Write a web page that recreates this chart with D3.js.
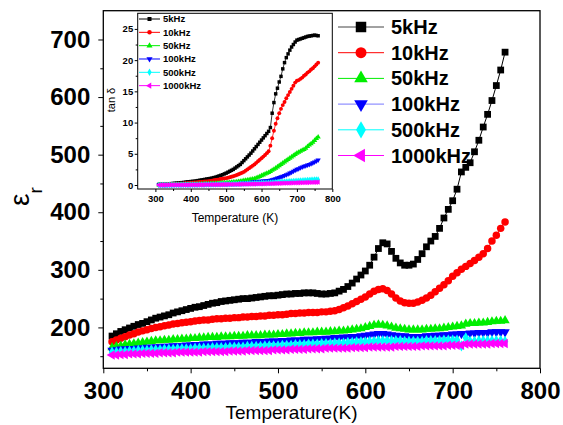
<!DOCTYPE html>
<html><head><meta charset="utf-8">
<script src="https://cdn.jsdelivr.net/npm/d3@7"></script>
<style>body{margin:0;background:#fff}svg{display:block}text{font-family:"Liberation Sans",Arial,sans-serif}</style>
</head><body><svg id="c" width="563" height="425"></svg>
<script>
const temperature = [
310,315,320,325,330,335,340,345,350,355,
360,365,370,375,380,385,390,395,400,405,
410,415,420,425,430,435,440,445,450,455,
460,465,470,475,480,485,490,495,500,505,
510,515,520,525,530,535,540,545,550,555,
560,565,570,575,580,585,590,595,600,605,
610,615,620,625,630,635,640,645,650,655,
660,665,670,675,680,685,690,695,700,705,
710,715,720,725,730,735,740,745,750,755,
760];
const seriesNames = ["5kHz","10kHz","50kHz","100kHz","500kHz","1000kHz"];
// permittivity (main chart)
const eps5k = [
185,189,193,196,199,202,205,207,210,213,
216,218,220,222,225,227,229,231,233,235,
236,238,240,242,243,245,246,247,248,249,
250,250,251,252,253,254,255,255,256,257,
258,258,259,259,260,260,260,259,258,258,
259,260,263,266,271,277,284,291,298,308,
322,337,347,345,332,320,312,308,308,310,
318,328,340,350,358,372,390,405,420,440,
470,478,486,505,525,548,570,594,620,647,
678];
const eps10k = [
175,178,181,184,187,189,192,194,196,198,
200,201,203,204,206,207,208,209,210,211,
212,213,213,214,215,215,216,216,217,217,
218,218,219,219,220,220,221,221,222,222,
223,224,224,225,225,226,226,226,227,227,
228,229,231,234,237,241,245,249,253,258,
263,266,267,264,258,251,246,243,242,242,
244,247,251,256,262,268,274,281,289,295,
301,306,311,316,322,328,337,350,360,372,
383];
const eps50k = [
165,167,168,170,171,172,173,174,175,176,
177,177,178,178,179,179,180,180,181,181,
182,182,183,183,183,184,184,184,185,185,
185,186,186,186,186,187,187,187,188,188,
189,189,190,190,191,191,191,192,192,192,
193,193,194,194,195,196,197,198,200,202,
204,205,204,203,201,199,198,197,196,196,
196,196,197,197,198,198,199,200,201,202,
203,206,207,207,208,208,209,210,211,211,
212];
const eps100k = [
160,161,162,162,163,163,164,164,165,165,
166,166,167,167,168,168,168,169,169,170,
170,171,171,171,172,172,172,173,173,173,
174,174,174,175,175,175,176,176,176,177,
177,178,178,178,179,179,179,180,180,181,
181,182,182,183,183,184,184,185,186,187,
188,189,189,188,187,186,185,185,184,184,
184,184,185,185,186,186,187,187,188,188,
189,189,190,190,191,191,191,192,192,192,
192];
const eps500k = [
157,157,158,158,159,159,160,160,160,161,
161,161,162,162,162,163,163,163,163,164,
164,164,164,165,165,165,165,166,166,166,
166,167,167,167,167,168,168,168,168,169,
169,169,170,170,170,171,171,171,172,172,
172,173,173,173,174,174,175,175,175,176,
176,177,177,177,177,177,177,176,176,176,
176,176,177,177,177,177,178,178,178,178,
168,182,176,176,177,177,177,177,177,177,
176];
const eps1000k = [
152,152,153,153,154,154,154,155,155,155,
155,156,156,156,156,157,157,157,157,157,
157,158,158,158,158,158,158,159,159,159,
159,160,160,160,160,160,160,161,161,161,
161,162,162,162,162,163,163,163,163,164,
164,164,164,164,164,165,165,165,165,166,
166,166,166,166,166,167,167,167,167,167,
167,168,168,168,168,168,168,169,169,169,
169,171,171,171,171,171,171,172,172,172,
172];
// loss tangent (inset)
const tan5k = [
0.10,0.11,0.12,0.13,0.15,0.17,0.20,0.22,0.25,0.27,
0.30,0.32,0.35,0.38,0.40,0.45,0.50,0.52,0.55,0.58,
0.60,0.65,0.70,0.75,0.80,0.85,0.90,0.95,1.00,1.05,
1.10,1.18,1.25,1.35,1.45,1.55,1.65,1.78,1.90,2.05,
2.20,2.35,2.50,2.70,2.90,3.10,3.30,3.60,3.90,4.20,
4.50,4.80,5.10,5.45,5.80,6.15,6.50,6.85,7.20,7.55,
7.90,8.25,8.60,9.20,11.5,13.2,14.6,15.5,16.5,17.4,
18.6,19.6,20.4,21.0,21.6,22.1,22.5,22.9,23.2,23.3,
23.4,23.5,23.6,23.7,23.8,23.85,23.9,23.95,24.0,23.95,
23.9];
const tan10k = [
0.05,0.06,0.07,0.08,0.10,0.11,0.12,0.13,0.15,0.16,
0.18,0.19,0.20,0.22,0.25,0.27,0.30,0.32,0.35,0.37,
0.40,0.42,0.45,0.47,0.50,0.52,0.55,0.57,0.60,0.65,
0.70,0.75,0.80,0.85,0.90,0.95,1.00,1.05,1.10,1.17,
1.25,1.32,1.40,1.50,1.60,1.72,1.85,1.97,2.10,2.30,
2.50,2.70,2.90,3.10,3.30,3.55,3.80,4.05,4.30,4.55,
4.80,5.10,5.40,6.30,7.50,8.70,9.80,10.7,11.5,12.2,
12.8,13.3,13.9,14.4,14.9,15.4,15.9,16.4,16.7,16.8,
17.0,17.2,17.5,17.7,18.0,18.2,18.5,18.7,19.0,19.3,
19.6];
const tan50k = [
0.02,0.02,0.03,0.03,0.03,0.04,0.04,0.05,0.05,0.05,
0.06,0.06,0.07,0.07,0.08,0.08,0.09,0.09,0.10,0.11,
0.12,0.13,0.14,0.15,0.16,0.17,0.18,0.19,0.20,0.21,
0.23,0.24,0.26,0.28,0.29,0.31,0.33,0.34,0.36,0.38,
0.41,0.43,0.46,0.49,0.52,0.56,0.60,0.65,0.70,0.75,
0.80,0.85,0.90,0.95,1.00,1.12,1.25,1.37,1.50,1.62,
1.75,1.87,2.00,2.17,2.35,2.52,2.70,2.90,3.10,3.30,
3.50,3.70,3.90,4.10,4.30,4.50,4.70,4.90,5.10,5.25,
5.40,5.55,5.70,5.90,6.15,6.40,6.60,6.85,7.15,7.45,
7.70];
const tan100k = [
0.01,0.01,0.01,0.01,0.02,0.02,0.02,0.02,0.03,0.03,
0.03,0.03,0.04,0.04,0.04,0.04,0.05,0.05,0.05,0.06,
0.06,0.07,0.07,0.08,0.08,0.09,0.09,0.10,0.10,0.11,
0.11,0.12,0.12,0.13,0.13,0.14,0.14,0.15,0.15,0.16,
0.17,0.18,0.19,0.21,0.22,0.24,0.26,0.28,0.30,0.33,
0.36,0.40,0.43,0.47,0.50,0.53,0.56,0.58,0.60,0.62,
0.65,0.67,0.70,0.77,0.85,0.92,1.00,1.10,1.20,1.30,
1.40,1.52,1.65,1.77,1.90,2.05,2.20,2.35,2.50,2.62,
2.75,2.87,3.00,3.10,3.20,3.30,3.40,3.55,3.70,3.85,
4.00];
const tan500k = [
0.00,0.00,0.00,0.01,0.01,0.01,0.01,0.01,0.02,0.02,
0.02,0.02,0.02,0.03,0.03,0.03,0.03,0.04,0.04,0.04,
0.05,0.05,0.05,0.06,0.06,0.06,0.07,0.07,0.07,0.08,
0.08,0.09,0.09,0.10,0.10,0.11,0.11,0.12,0.12,0.13,
0.13,0.14,0.15,0.16,0.17,0.18,0.19,0.20,0.21,0.22,
0.23,0.24,0.25,0.26,0.27,0.28,0.29,0.30,0.31,0.32,
0.33,0.34,0.35,0.37,0.39,0.41,0.43,0.45,0.47,0.49,
0.51,0.53,0.55,0.57,0.59,0.61,0.63,0.65,0.67,0.69,
0.71,0.73,0.75,0.77,0.79,0.81,0.83,0.85,0.87,0.89,
0.90];
const tan1000k = [
0,0,0,0,0.01,0.01,0.01,0.01,0.01,0.01,
0.01,0.02,0.02,0.02,0.02,0.02,0.02,0.03,0.03,0.03,
0.03,0.03,0.04,0.04,0.04,0.04,0.05,0.05,0.05,0.05,
0.06,0.06,0.06,0.07,0.07,0.07,0.08,0.08,0.08,0.09,
0.09,0.10,0.10,0.11,0.11,0.12,0.12,0.13,0.13,0.14,
0.14,0.15,0.15,0.16,0.16,0.17,0.17,0.18,0.18,0.19,
0.20,0.21,0.21,0.22,0.23,0.24,0.25,0.26,0.27,0.28,
0.29,0.30,0.31,0.31,0.32,0.33,0.34,0.35,0.36,0.36,
0.37,0.38,0.39,0.40,0.40,0.41,0.42,0.43,0.44,0.44,
0.45];
const mainXTicks = [300,400,500,600,700,800];
const mainXMinor = [350,450,550,650,750];
const mainYTicks = [200,300,400,500,600,700];
const mainYMinor = [150,250,350,450,550,650];
const insetXTicks = [300,400,500,600,700,800];
const insetXMinor = [350,450,550,650,750];
const insetYTicks = [0,5,10,15,20,25];
const insetYMinor = [2.5,7.5,12.5,17.5,22.5];

const epsSeries = [eps5k,eps10k,eps50k,eps100k,eps500k,eps1000k];
const tanSeries = [tan5k,tan10k,tan50k,tan100k,tan500k,tan1000k];
const colors = ["#000000","#ff0000","#00ee00","#0000ff","#00ffff","#ff00ff"];
const legendLine = ["#444444","#ff0000","#00ee00","#7777ff","#00ffff","#ff00ff"];
const symTypes = [d3.symbolSquare,d3.symbolCircle,d3.symbolTriangle,d3.symbolTriangle,d3.symbolDiamond,d3.symbolTriangle];
const symRot = [0,0,0,180,0,-90];

const svg = d3.select("#c");
svg.append("rect").attr("width",563).attr("height",425).attr("fill","#fff");

// ---------- main chart ----------
const M = {l:103.3, r:540, t:10.7, b:368.3};
const x = d3.scaleLinear().domain([300,800]).range([M.l,M.r]);
const y = d3.scaleLinear().domain([129,750]).range([M.b,M.t]);

function axisStyle(g, fs, bold){
  g.select(".domain").remove();
  g.selectAll("line").attr("stroke","#000").attr("stroke-width",1.2);
  g.selectAll("text").attr("font-size",fs).attr("font-weight",bold?"bold":"normal")
   .attr("fill","#000").attr("font-family",'"Liberation Sans",Arial,sans-serif');
}
svg.append("g").attr("transform",`translate(${M.l},0)`)
  .call(d3.axisLeft(y).tickValues(mainYTicks).tickSize(5).tickPadding(8).tickFormat(d3.format("d")))
  .call(g=>axisStyle(g,24,true));
svg.append("g").attr("transform",`translate(${M.l},0)`)
  .call(d3.axisLeft(y).tickValues(mainYMinor).tickSize(3).tickFormat(""))
  .call(g=>axisStyle(g,0,false));
svg.append("g").attr("transform",`translate(0,${M.b})`)
  .call(d3.axisBottom(x).tickValues(mainXTicks).tickSize(5).tickPadding(9).tickFormat(d3.format("d")))
  .call(g=>axisStyle(g,24,true));
svg.append("g").attr("transform",`translate(0,${M.b})`)
  .call(d3.axisBottom(x).tickValues(mainXMinor).tickSize(3).tickFormat(""))
  .call(g=>axisStyle(g,0,false));

const plotMain = svg.append("g");
epsSeries.forEach((s,i)=>{
  const pts = temperature.map((t,k)=>[t,s[k]]);
  plotMain.append("path").datum(pts)
    .attr("d",d3.line().x(d=>x(d[0])).y(d=>y(d[1])))
    .attr("fill","none").attr("stroke",colors[i]).attr("stroke-width",1);
  const sz = [46,44,38,38,36,38][i];
  plotMain.append("g").selectAll("path").data(pts).join("path")
    .attr("d",d3.symbol().type(symTypes[i]).size(sz))
    .attr("transform",d=>`translate(${x(d[0])},${y(d[1])}) rotate(${symRot[i]})`)
    .attr("fill",colors[i]);
});
svg.append("rect").attr("x",M.l).attr("y",M.t).attr("width",M.r-M.l).attr("height",M.b-M.t)
  .attr("fill","none").attr("stroke","#000").attr("stroke-width",1.3);

// main legend
const lg = svg.append("g");
seriesNames.forEach((n,i)=>{
  const yy = 27 + i*25.7;
  lg.append("line").attr("x1",338).attr("x2",384).attr("y1",yy).attr("y2",yy)
    .attr("stroke",legendLine[i]).attr("stroke-width",1.2);
  lg.append("path").attr("d",d3.symbol().type(symTypes[i]).size([110,95,80,80,85,80][i]))
    .attr("transform",`translate(361,${yy}) rotate(${symRot[i]})`).attr("fill",colors[i]);
  lg.append("text").attr("x",391).attr("y",yy).attr("dy","0.35em")
    .attr("font-size",20).attr("font-weight","bold").text(n);
});

// axis titles
svg.append("text").attr("x",291.5).attr("y",419).attr("text-anchor","middle")
  .attr("font-size",19).text("Temperature(K)");
const et = svg.append("text").attr("transform","translate(29,206) rotate(-90)");
et.append("tspan").attr("font-size",28).text("ε");
et.append("tspan").attr("font-size",19).attr("dy",13).text("r");

// ---------- inset ----------
const I = {l:137.7, r:332.3, t:13.3, b:189};
const xi = d3.scaleLinear().domain([250,800]).range([I.l,I.r]);
const yi = d3.scaleLinear().domain([-0.64,27.5]).range([I.b,I.t]);
svg.append("rect").attr("x",I.l).attr("y",I.t).attr("width",I.r-I.l).attr("height",I.b-I.t).attr("fill","#fff");
svg.append("g").attr("transform",`translate(${I.l},0)`)
  .call(d3.axisLeft(yi).tickValues(insetYTicks).tickSize(3).tickPadding(1.5).tickFormat(d3.format("d")))
  .call(g=>axisStyle(g,9.5,true));
svg.append("g").attr("transform",`translate(${I.l},0)`)
  .call(d3.axisLeft(yi).tickValues(insetYMinor).tickSize(2).tickFormat(""))
  .call(g=>axisStyle(g,0,false));
svg.append("g").attr("transform",`translate(0,${I.b})`)
  .call(d3.axisBottom(xi).tickValues(insetXTicks).tickSize(3).tickPadding(3).tickFormat(d3.format("d")))
  .call(g=>axisStyle(g,9.5,true));
svg.append("g").attr("transform",`translate(0,${I.b})`)
  .call(d3.axisBottom(xi).tickValues(insetXMinor).tickSize(2).tickFormat(""))
  .call(g=>axisStyle(g,0,false));
svg.selectAll("g line").attr("stroke-width",1);

const plotIn = svg.append("g");
tanSeries.forEach((s,i)=>{
  const pts = temperature.map((t,k)=>[t,s[k]]);
  plotIn.append("path").datum(pts)
    .attr("d",d3.line().x(d=>xi(d[0])).y(d=>yi(d[1])))
    .attr("fill","none").attr("stroke",colors[i]).attr("stroke-width",0.8);
  plotIn.append("g").selectAll("path").data(pts).join("path")
    .attr("d",d3.symbol().type(symTypes[i]).size(12))
    .attr("transform",d=>`translate(${xi(d[0])},${yi(d[1])}) rotate(${symRot[i]})`)
    .attr("fill",colors[i]);
});
svg.append("rect").attr("x",I.l).attr("y",I.t).attr("width",I.r-I.l).attr("height",I.b-I.t)
  .attr("fill","none").attr("stroke","#000").attr("stroke-width",1);

const il = svg.append("g");
seriesNames.forEach((n,i)=>{
  const yy = 19 + i*13.33;
  il.append("line").attr("x1",139).attr("x2",160).attr("y1",yy).attr("y2",yy)
    .attr("stroke",colors[i]).attr("stroke-width",1);
  il.append("path").attr("d",d3.symbol().type(symTypes[i]).size(16))
    .attr("transform",`translate(149.5,${yy}) rotate(${symRot[i]})`).attr("fill",colors[i]);
  il.append("text").attr("x",163).attr("y",yy).attr("dy","0.35em")
    .attr("font-size",9.5).attr("font-weight","bold").text(n);
});
svg.append("text").attr("x",235).attr("y",222).attr("text-anchor","middle")
  .attr("font-size",12).text("Temperature (K)");
svg.append("text").attr("transform","translate(115,100) rotate(-90)").attr("text-anchor","middle")
  .attr("font-size",11).text("tan δ");
</script></body></html>
